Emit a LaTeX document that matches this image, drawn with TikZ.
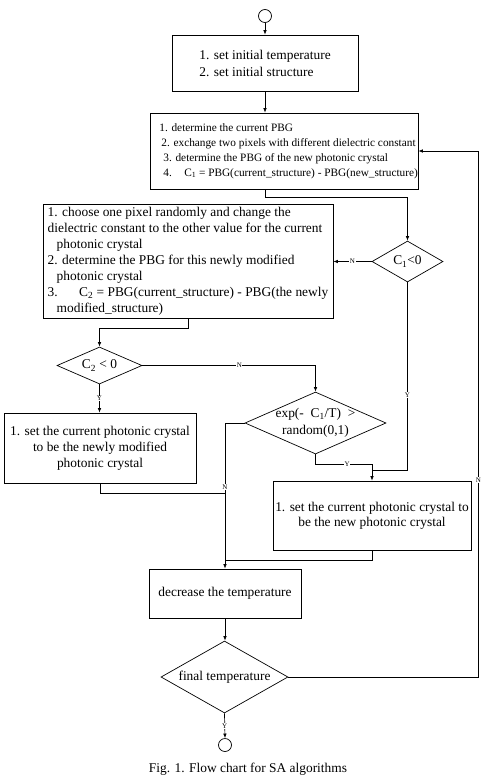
\documentclass[tikz,border=0pt]{standalone}
\usepackage{fontspec}
\setmainfont{Liberation Serif}
\usetikzlibrary{arrows.meta,shapes.geometric,calc}
\begin{document}
\begin{tikzpicture}[x=1pt,y=-1pt,
  line width=0.7pt,
  arr/.style={-{Latex[length=4.5pt,width=3.5pt]}},
  box/.style={draw, rectangle, inner sep=1pt, font=\fontsize{13.4}{16}\selectfont},
  dia/.style={draw, diamond, inner sep=0pt},
  txt/.style={font=\fontsize{13.4}{16}\selectfont, align=center, inner sep=0pt},
  yn/.style={font=\fontsize{7}{8}\selectfont, fill=white, inner sep=0.6pt},
  term/.style={draw, circle, minimum size=13pt, inner sep=0pt}
]
\useasboundingbox (0,0) rectangle (486,777);

\node[term] (start) at (265,16) {};
\node[box, minimum width=186pt, minimum height=56pt, align=left,
      font=\fontsize{13.4}{17}\selectfont] (b1) at (265,63)
  {1. set initial temperature\\2. set initial structure};
\node[box, minimum width=268pt, minimum height=76pt] (b2) at (284,151) {};
\node[anchor=west, align=left, inner sep=0pt,
      font=\fontsize{11.3}{15}\selectfont] (b2t) at (159,151)
  {1. determine the current PBG\\
   \hspace*{2pt}2. exchange two pixels with different dielectric constant\\
   \hspace*{4pt}3. determine the PBG of the new photonic crystal\\
   \hspace*{4pt}4.\hspace*{1.1em}C\textsubscript{1} = PBG(current\_structure) - PBG(new\_structure)};
\node[dia, minimum width=71pt, minimum height=41pt] (c1) at (407.5,261.5) {};
\node[txt] at (c1) {C\textsubscript{1}<0};
\node[box, minimum width=290pt, minimum height=114pt, align=left] (b3) at (188,261)
  {1. choose one pixel randomly and change the\\
   dielectric constant to the other value for the current\\
   \hspace*{9pt}photonic crystal\\
   2. determine the PBG for this newly modified\\
   \hspace*{9pt}photonic crystal\\
   3.\hspace*{1.6em}C\textsubscript{2} = PBG(current\_structure) - PBG(the newly\\
   \hspace*{9pt}modified\_structure)};
\node[dia, minimum width=85pt, minimum height=37pt] (c2) at (99.5,365.5) {};
\node[txt] at (c2) {C\textsubscript{2} < 0};
\node[dia, minimum width=141pt, minimum height=62pt] (ex) at (315.5,423) {};
\node[txt, font=\fontsize{13.4}{17}\selectfont] at (ex)
  {exp(-\hspace{0.5em}C\textsubscript{1}/T)\hspace{0.5em}>\\random(0,1)};
\node[box, minimum width=192pt, minimum height=70pt, align=center] (b4) at (100,448)
  {1. set the current photonic crystal\\to be the newly modified\\photonic crystal};
\node[box, minimum width=198pt, minimum height=69pt, align=center,
      font=\fontsize{13.4}{15}\selectfont] (b5) at (372,515.5)
  {1. set the current photonic crystal to\\be the new photonic crystal};
\node[box, minimum width=152pt, minimum height=49pt] (dec) at (225,593.5)
  {decrease the temperature};
\node[dia, minimum width=127pt, minimum height=72pt] (fin) at (224.5,677) {};
\node[txt] at (fin) {final temperature};
\node[term] (end) at (225,745) {};
\node[txt, anchor=base] (cap) at (248,772.5) {Fig. 1. Flow chart for SA algorithms};

\coordinate (j1) at ($(dec.north |- b4.south)+(0,10)$);
\coordinate (j2) at ($(b5.north)+(0,-10)$);
\coordinate (j3) at ($(dec.north |- b5.south)+(0,10)$);
\coordinate (rr) at ($(b2.east)+(60,0)$);

\draw[arr] (start) -- (b1);
\draw[arr] (b1.south) -- (b1.south |- b2.north);
\draw[arr] (b1.south |- b2.south) -- ++(0,8) -| (c1.north);
\draw[arr] (c1.west) -- node[yn]{N} (c1.west -| b3.east);
\draw[arr] (b3.south) -- ++(0,10) -| (c2.north);
\draw[arr] (c2.east) -| node[yn, pos=0.28]{N} (ex.north);
\draw[arr] (c2.south) -- node[yn]{Y} (c2.south |- b4.north);
\draw[arr] (ex.west) -| node[yn, pos=0.72]{N} (dec.north);
\draw (b4.south) |- (j1);
\draw[arr] (ex.south) -- ++(0,10) -| node[yn, pos=0.28]{Y} (b5.north);
\draw (c1.south) |- node[yn, pos=0.3]{Y} (j2);
\draw (b5.south) |- (j3);
\draw[arr] (dec.south) -- (dec.south |- fin.north);
\draw[arr] (fin.east) -| node[yn, pos=0.687]{N} (rr) -- (b2.east);
\draw[arr] (fin.south) -- node[yn]{Y} (end.north);
\end{tikzpicture}
\end{document}
